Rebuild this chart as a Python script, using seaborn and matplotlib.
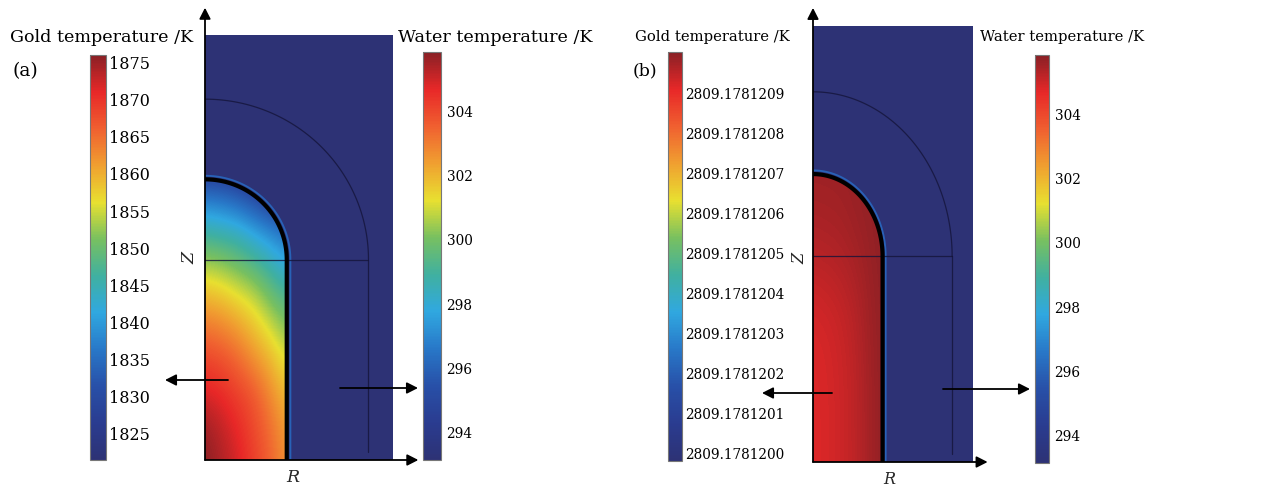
import numpy as np
import matplotlib
matplotlib.use('Agg')
import matplotlib.pyplot as plt
import matplotlib.colors as mcolors
from matplotlib.path import Path
from matplotlib.patches import PathPatch
import seaborn as sns

sns.set_theme(style='white')
plt.rcParams['font.family'] = ['DejaVu Serif']

# rainbow colour scale, cold -> hot
RAINBOW = ['#2d3275', '#2a3c90', '#2850a8', '#2878c8', '#30a8e0', '#40b0a0',
           '#78c060', '#e8e030', '#f0a030', '#f06030', '#e82828', '#8a2025']

# half rod + water box geometry (nm)
ROD_R, ROD_L = 10, 25
SHELL_R = 20
BOX_W, BOX_H = 23, 53

# panel (a): gold temperature (K), rows z = 0, 4, ... 36 nm, columns r = 0, 2, ... 10 nm
R_STEP_A, Z_STEP_A = 2, 4
GOLD_A = [
    [1876, 1874, 1872, 1869, 1866, 1862],
    [1875, 1873, 1871, 1868, 1865, 1861],
    [1872, 1871, 1869, 1867, 1863, 1859],
    [1869, 1868, 1866, 1863, 1860, 1856],
    [1865, 1864, 1862, 1859, 1856, 1852],
    [1860, 1859, 1857, 1855, 1851, 1848],
    [1854, 1853, 1851, 1849, 1846, 1842],
    [1847, 1846, 1845, 1842, 1839, 1836],
    [1838, 1837, 1835, 1832, 1829, 1827],
    [1827, 1827, 1826, 1825, 1824, 1823],
]
GOLD_A_TICKS = [1825, 1830, 1835, 1840, 1845, 1850, 1855, 1860, 1865, 1870, 1875]
GOLD_A_RANGE = (1821.5, 1876)

# panel (b): gold temperature as offset from 2809.1781200 K in 1e-7 K,
# rows z = 0, 9, ... 36 nm, columns r = 0, 2, ... 10 nm
R_STEP_B, Z_STEP_B = 2, 9
GOLD_B = [
    [9.20, 9.25, 9.35, 9.50, 9.75, 9.95],
    [9.20, 9.25, 9.35, 9.50, 9.75, 9.95],
    [9.25, 9.30, 9.40, 9.55, 9.80, 9.95],
    [9.65, 9.68, 9.72, 9.80, 9.88, 9.97],
    [9.85, 9.85, 9.85, 9.90, 9.95, 10.0],
]
GOLD_B_BASE = 2809.17812
GOLD_B_TICKS = [0, 1, 2, 3, 4, 5, 6, 7, 8, 9]
GOLD_B_RANGE = (-0.2, 10.03)

# water temperature (K)
WATER = 293.15
WATER_HALO = 296.0
WATER_TICKS = [294, 296, 298, 300, 302, 304]
WATER_RANGE = (293.15, 305.85)

W, H = 1261, 491
cmap = sns.blend_palette(RAINBOW, as_cmap=True)
fig = plt.figure(figsize=(W / 100, H / 100), dpi=100)


def box(x0, y0, x1, y1):
    return [x0 / W, 1 - y1 / H, (x1 - x0) / W, (y1 - y0) / H]


panels = [
    dict(gold=GOLD_A, step=(R_STEP_A, Z_STEP_A), gold_range=GOLD_A_RANGE, gold_ticks=GOLD_A_TICKS,
         gold_labels=[str(t) for t in GOLD_A_TICKS],
         main=(205, 35, 393, 460), gcb=(90, 55, 106, 460), wcb=(423, 52, 441, 460),
         z_top=56.4, r_end=26.1, gsize=11.5, wsize=9.8, gpad=2, wpad=4),
    dict(gold=GOLD_B, step=(R_STEP_B, Z_STEP_B), gold_range=GOLD_B_RANGE, gold_ticks=GOLD_B_TICKS,
         gold_labels=[f'{GOLD_B_BASE + t * 1e-7:.7f}' for t in GOLD_B_TICKS],
         main=(813, 26, 973, 462), gcb=(668, 52, 682, 461), wcb=(1035, 55, 1049, 463),
         z_top=55.2, r_end=25.1, gsize=9.8, wsize=9.8, gpad=2, wpad=4),
]

th = np.linspace(0, np.pi / 2, 80)
arrow = dict(arrowstyle='-|>,head_length=0.55,head_width=0.28', color='black',
             lw=1.3, shrinkA=0, shrinkB=0, mutation_scale=12)

for p in panels:
    gnorm = mcolors.Normalize(*p['gold_range'])
    wnorm = mcolors.Normalize(*WATER_RANGE)

    ax = fig.add_axes(box(*p['main']))
    ax.pcolormesh([0, BOX_W], [0, BOX_H], [[WATER]], cmap=cmap, norm=wnorm, zorder=1)

    arc_r = ROD_R * np.cos(th)
    arc_z = ROD_L + ROD_R * np.sin(th)
    verts = [(0, 0), (ROD_R, 0)] + list(zip(arc_r, arc_z)) + [(0, 0)]
    rod = PathPatch(Path(verts), transform=ax.transData, fc='none', ec='none')
    ax.add_patch(rod)
    g = np.array(p['gold'])
    dr, dz = p['step']
    ext = [-dr / 2, (g.shape[1] - 0.5) * dr, -dz / 2, (g.shape[0] - 0.5) * dz]
    img = ax.imshow(g, origin='lower', extent=ext, aspect='auto', interpolation='bicubic',
                    cmap=cmap, norm=gnorm, zorder=2)
    img.set_clip_path(rod)

    # warm water film and rod outline
    k = (ROD_R + 0.45) / ROD_R
    ax.plot([ROD_R + 0.45] + list(arc_r * k), [0] + list(ROD_L + (arc_z - ROD_L) * k),
            color=cmap(wnorm(WATER_HALO)), lw=1.3, zorder=3)
    ax.plot([ROD_R] + list(arc_r), [0] + list(arc_z), color='black', lw=3,
            solid_capstyle='butt', zorder=4)

    # mesh boundaries
    ax.plot(SHELL_R * np.cos(th), ROD_L + SHELL_R * np.sin(th), color='#14143a', lw=0.9, alpha=0.8, zorder=3)
    ax.plot([0, SHELL_R], [ROD_L, ROD_L], color='#14143a', lw=0.9, alpha=0.8, zorder=3)
    ax.plot([SHELL_R, SHELL_R], [ROD_L, 1], color='#14143a', lw=0.9, alpha=0.8, zorder=3)

    ax.set_xlim(0, BOX_W)
    ax.set_ylim(0, BOX_H)
    ax.set_xticks([])
    ax.set_yticks([])
    for s in ax.spines.values():
        s.set_visible(False)
    ax.annotate('', xy=(0, p['z_top']), xytext=(0, 0), arrowprops=arrow, annotation_clip=False)
    ax.annotate('', xy=(p['r_end'], 0), xytext=(0, 0), arrowprops=arrow, annotation_clip=False)

    # colour bars
    for key, norm, ticks, labels, size, pad in [
            ('gcb', gnorm, p['gold_ticks'], p['gold_labels'], p['gsize'], p['gpad']),
            ('wcb', wnorm, WATER_TICKS, [str(t) for t in WATER_TICKS], p['wsize'], p['wpad'])]:
        cax = fig.add_axes(box(*p[key]))
        cb = fig.colorbar(plt.cm.ScalarMappable(norm=norm, cmap=cmap), cax=cax, ticks=ticks)
        cb.ax.set_yticklabels(labels)
        cb.ax.yaxis.set_ticks_position('both')
        cb.ax.tick_params(direction='in', length=3, width=0.8, color='#333333',
                          labelsize=size, labelcolor='black', pad=pad,
                          labelleft=False, labelright=True)
        cb.outline.set_edgecolor('#777777')
        cb.outline.set_linewidth(0.8)

# labels and pointer arrows, in pixel coordinates
ov = fig.add_axes([0, 0, 1, 1], zorder=10)
ov.set_xlim(0, W)
ov.set_ylim(H, 0)
ov.axis('off')
ov.patch.set_alpha(0)

for x, y, s, size in [(10, 37, 'Gold temperature /K', 12.6), (398, 37, 'Water temperature /K', 12.6),
                      (635, 37, 'Gold temperature /K', 10.6), (980, 37, 'Water temperature /K', 10.6)]:
    ov.text(x, y, s, fontsize=size, ha='left', va='center', color='black')
ov.text(12, 71, '(a)', fontsize=13.5, ha='left', va='center', color='black')
ov.text(633, 71, '(b)', fontsize=12.5, ha='left', va='center', color='black')
ov.text(190, 258, 'Z', fontsize=12.5, fontstyle='italic', rotation=90, ha='center', va='center')
ov.text(293, 478, 'R', fontsize=12.5, fontstyle='italic', ha='center', va='center')
ov.text(800, 258, 'Z', fontsize=11.5, fontstyle='italic', rotation=90, ha='center', va='center')
ov.text(889, 480, 'R', fontsize=11.5, fontstyle='italic', ha='center', va='center')

for (x0, y0), (x1, y1) in [((228, 380), (165, 380)), ((340, 388), (418, 388)),
                           ((832, 393), (762, 393)), ((943, 389), (1030, 389))]:
    ov.annotate('', xy=(x1, y1), xytext=(x0, y0), arrowprops=arrow)

fig.savefig('out.png', dpi=100, facecolor='white')
